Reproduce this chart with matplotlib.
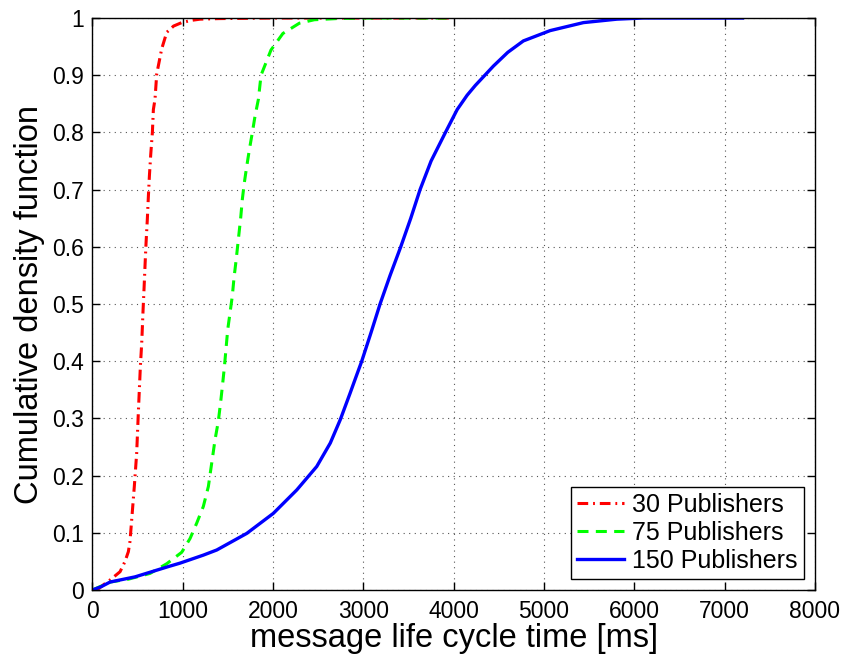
import matplotlib
matplotlib.use("Agg")
import matplotlib.pyplot as plt
from matplotlib import font_manager

names = {f.name for f in font_manager.fontManager.ttflist}
fam = "Liberation Sans Narrow" if "Liberation Sans Narrow" in names else "Liberation Sans"
plt.rcParams['font.family'] = [fam, 'DejaVu Sans']

# ---- data ----
red_x = [50, 122, 200, 307, 362, 399, 417, 436, 465, 491, 510, 532, 547, 562, 573, 584, 595,
         609, 620, 632, 647, 665, 676, 694, 713, 768, 824, 900, 990, 1100, 1193, 1400, 2000, 3000, 4000]
red_y = [0, 0.009, 0.018, 0.032, 0.05, 0.067, 0.085, 0.123, 0.181, 0.239, 0.312, 0.391, 0.432, 0.49,
         0.528, 0.569, 0.607, 0.648, 0.686, 0.724, 0.762, 0.80, 0.84, 0.858, 0.902, 0.946, 0.975,
         0.986, 0.992, 0.996, 0.998, 0.999, 1.0, 1.0, 1.0]

green_x = [0, 200, 400, 639, 824, 990, 1082, 1156, 1229, 1285, 1322, 1359, 1395, 1422, 1444, 1463,
           1481, 1499, 1525, 1550, 1569, 1591, 1617, 1643, 1661, 1683, 1710, 1739, 1772, 1802, 1839,
           1868, 1978, 2110, 2293, 2458, 2700, 3000, 4000]
green_y = [0, 0.014, 0.019, 0.029, 0.046, 0.066, 0.09, 0.117, 0.146, 0.181, 0.222, 0.263, 0.295,
           0.33, 0.362, 0.391, 0.423, 0.455, 0.485, 0.514, 0.546, 0.575, 0.613, 0.651, 0.683, 0.712,
           0.741, 0.77, 0.80, 0.829, 0.858, 0.9, 0.944, 0.973, 0.991, 0.997, 0.999, 1.0, 1.0]

blue_x = [0, 100, 197, 473, 842, 971, 1229, 1378, 1710, 2004, 2264, 2485, 2635, 2746, 2854, 2909,
          2983, 3086, 3186, 3297, 3415, 3526, 3629, 3751, 3910, 4040, 4150, 4240, 4441, 4600, 4773,
          5069, 5438, 5807, 6100, 6500, 7200]
blue_y = [0, 0.006, 0.014, 0.023, 0.041, 0.047, 0.061, 0.070, 0.099, 0.134, 0.175, 0.216, 0.257,
          0.298, 0.344, 0.368, 0.40, 0.45, 0.50, 0.55, 0.60, 0.65, 0.70, 0.75, 0.80, 0.84, 0.865,
          0.882, 0.916, 0.94, 0.960, 0.978, 0.992, 0.998, 1.0, 1.0, 1.0]

labels = ["30 Publishers", "75 Publishers", "150 Publishers"]
x_ticks = [0, 1000, 2000, 3000, 4000, 5000, 6000, 7000, 8000]
y_ticks = [0, 0.1, 0.2, 0.3, 0.4, 0.5, 0.6, 0.7, 0.8, 0.9, 1]
y_ticklabels = ["0", "0.1", "0.2", "0.3", "0.4", "0.5", "0.6", "0.7", "0.8", "0.9", "1"]

fig = plt.figure(figsize=(8.47, 6.58), dpi=100)
ax = fig.add_axes([0.109, 0.1033, 0.853, 0.8693])

ax.plot(red_x, red_y, color='#ff0000', lw=2.2, dashes=(3.5, 1.6, 0.6, 1.6), label=labels[0])
ax.plot(green_x, green_y, color='#00ff00', lw=2.2, dashes=(3.6, 2.4), label=labels[1])
ax.plot(blue_x, blue_y, color='#0000ff', lw=2.4, label=labels[2])

ax.set_xlim(0, 8000)
ax.set_ylim(0, 1)
ax.set_xticks(x_ticks)
ax.set_xticklabels([str(t) for t in x_ticks])
ax.set_yticks(y_ticks)
ax.set_yticklabels(y_ticklabels)
ax.tick_params(direction='in', length=6, width=1, top=True, right=True, labelsize=16.5)
ax.tick_params(axis='x', pad=7)
ax.tick_params(axis='y', pad=6)
ax.grid(True, linestyle=(0, (1, 4)), color='#555555', lw=0.8)
for s in ax.spines.values():
    s.set_linewidth(1.0)

ax.set_xlabel("message life cycle time [ms]", fontsize=23.5, labelpad=0)
ax.set_ylabel("Cumulative density function", fontsize=23.5, labelpad=5)

leg = ax.legend(loc='lower right', fontsize=18, frameon=True, fancybox=False, framealpha=1,
                edgecolor='black', handlelength=1.9, handletextpad=0.3, borderpad=0.25,
                labelspacing=0.15, borderaxespad=0.45)
leg.get_frame().set_linewidth(1.0)

fig.savefig("out.png", dpi=100)
